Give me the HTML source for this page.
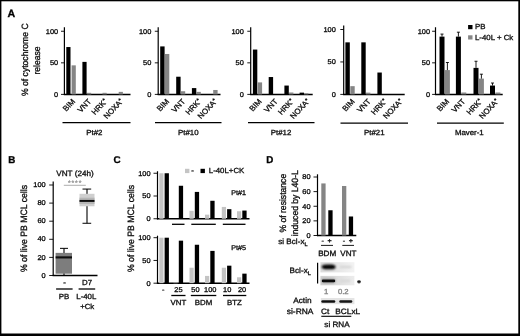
<!DOCTYPE html>
<html lang="en"><head><meta charset="utf-8"><title>Figure</title>
<style>
html,body{margin:0;padding:0;background:#fff;}
body{width:520px;height:336px;overflow:hidden;position:relative;}
svg{display:block;position:absolute;left:0;top:0;font-family:"Liberation Sans", Arial, Helvetica, sans-serif;text-rendering:geometricPrecision;}
text{stroke-width:0.32px;}
</style></head><body>
<svg width="520" height="336" viewBox="0 0 520 336">
<defs>
<filter id="soft" x="0" y="0" width="520" height="336" filterUnits="userSpaceOnUse"><feGaussianBlur stdDeviation="0.45"/></filter>
<filter id="b1" x="-30%" y="-80%" width="160%" height="260%"><feGaussianBlur stdDeviation="0.8"/></filter>
<filter id="b2" x="-30%" y="-80%" width="160%" height="260%"><feGaussianBlur stdDeviation="0.55"/></filter>
<filter id="b3" x="-10%" y="-20%" width="120%" height="140%"><feGaussianBlur stdDeviation="0.5"/></filter>
<linearGradient id="g1" x1="0" x2="1" y1="0" y2="0"><stop offset="0" stop-color="#dcdcdc"/><stop offset="0.5" stop-color="#e6e6e6"/><stop offset="1" stop-color="#f3f3f3"/></linearGradient>
<linearGradient id="g2" x1="0" x2="1" y1="0" y2="0"><stop offset="0" stop-color="#d2d2d2"/><stop offset="0.5" stop-color="#dedede"/><stop offset="1" stop-color="#ececec"/></linearGradient>
</defs>
<rect x="0" y="0" width="520" height="336" fill="#fff"/>
<g id="fig" filter="url(#soft)">
<text transform="translate(7.40 16.80) scale(1.0 1)" font-size="10.6" text-anchor="start" fill="#000" stroke="#000" font-weight="bold">A</text>
<text transform="translate(28.30 59.70) scale(1.06 1) rotate(-90)" font-size="8.6" text-anchor="middle" fill="#111" stroke="#111" font-weight="normal">% of cytochrome C</text>
<text transform="translate(40.00 60.50) scale(1.06 1) rotate(-90)" font-size="8.6" text-anchor="middle" fill="#111" stroke="#111" font-weight="normal">release</text>
<line x1="64.40" y1="27.25" x2="64.40" y2="95.00" stroke="#000" stroke-width="1.2"/>
<line x1="63.80" y1="94.40" x2="130.50" y2="94.40" stroke="#000" stroke-width="1.5"/>
<line x1="61.00" y1="94.40" x2="64.40" y2="94.40" stroke="#000" stroke-width="0.9"/>
<text transform="translate(58.20 96.80) scale(1.06 1)" font-size="7.0" text-anchor="end" fill="#111" stroke="#111" font-weight="normal">0</text>
<line x1="61.00" y1="62.83" x2="64.40" y2="62.83" stroke="#000" stroke-width="0.9"/>
<text transform="translate(58.20 65.23) scale(1.06 1)" font-size="7.0" text-anchor="end" fill="#111" stroke="#111" font-weight="normal">50</text>
<line x1="61.00" y1="31.25" x2="64.40" y2="31.25" stroke="#000" stroke-width="0.9"/>
<text transform="translate(58.20 33.65) scale(1.06 1)" font-size="7.0" text-anchor="end" fill="#111" stroke="#111" font-weight="normal">100</text>
<rect x="66.30" y="47.04" width="4.20" height="47.36" fill="#000"/>
<rect x="71.60" y="65.35" width="4.20" height="29.05" fill="#858585"/>
<rect x="82.40" y="61.88" width="4.20" height="32.52" fill="#000"/>
<rect x="87.00" y="92.82" width="4.20" height="1.58" fill="#858585"/>
<rect x="102.50" y="92.82" width="4.20" height="1.58" fill="#858585"/>
<rect x="118.70" y="91.87" width="4.20" height="2.53" fill="#858585"/>
<line x1="62.50" y1="122.70" x2="130.50" y2="122.70" stroke="#000" stroke-width="1.25"/>
<text transform="translate(94.40 134.60) scale(1.06 1)" font-size="7.4" text-anchor="middle" fill="#111" stroke="#111" font-weight="normal">Pt#2</text>
<line x1="158.20" y1="27.25" x2="158.20" y2="95.00" stroke="#000" stroke-width="1.2"/>
<line x1="157.60" y1="94.40" x2="220.50" y2="94.40" stroke="#000" stroke-width="1.5"/>
<line x1="154.80" y1="94.40" x2="158.20" y2="94.40" stroke="#000" stroke-width="0.9"/>
<text transform="translate(151.30 96.80) scale(1.06 1)" font-size="7.0" text-anchor="end" fill="#111" stroke="#111" font-weight="normal">0</text>
<line x1="154.80" y1="62.83" x2="158.20" y2="62.83" stroke="#000" stroke-width="0.9"/>
<text transform="translate(151.30 65.23) scale(1.06 1)" font-size="7.0" text-anchor="end" fill="#111" stroke="#111" font-weight="normal">50</text>
<line x1="154.80" y1="31.25" x2="158.20" y2="31.25" stroke="#000" stroke-width="0.9"/>
<text transform="translate(151.30 33.65) scale(1.06 1)" font-size="7.0" text-anchor="end" fill="#111" stroke="#111" font-weight="normal">100</text>
<rect x="160.20" y="46.41" width="4.40" height="47.99" fill="#000"/>
<rect x="164.90" y="53.98" width="4.40" height="40.42" fill="#858585"/>
<rect x="176.20" y="76.72" width="4.40" height="17.68" fill="#000"/>
<rect x="180.80" y="91.24" width="4.40" height="3.16" fill="#858585"/>
<rect x="191.90" y="88.09" width="4.40" height="6.31" fill="#000"/>
<rect x="196.40" y="91.87" width="4.40" height="2.53" fill="#858585"/>
<rect x="213.20" y="89.98" width="4.40" height="4.42" fill="#858585"/>
<line x1="155.00" y1="122.70" x2="221.50" y2="122.70" stroke="#000" stroke-width="1.25"/>
<text transform="translate(188.30 134.60) scale(1.06 1)" font-size="7.4" text-anchor="middle" fill="#111" stroke="#111" font-weight="normal">Pt#10</text>
<line x1="250.70" y1="27.25" x2="250.70" y2="95.00" stroke="#000" stroke-width="1.2"/>
<line x1="250.10" y1="94.40" x2="312.70" y2="94.40" stroke="#000" stroke-width="1.5"/>
<line x1="247.30" y1="94.40" x2="250.70" y2="94.40" stroke="#000" stroke-width="0.9"/>
<text transform="translate(243.80 96.80) scale(1.06 1)" font-size="7.0" text-anchor="end" fill="#111" stroke="#111" font-weight="normal">0</text>
<line x1="247.30" y1="62.83" x2="250.70" y2="62.83" stroke="#000" stroke-width="0.9"/>
<text transform="translate(243.80 65.23) scale(1.06 1)" font-size="7.0" text-anchor="end" fill="#111" stroke="#111" font-weight="normal">50</text>
<line x1="247.30" y1="31.25" x2="250.70" y2="31.25" stroke="#000" stroke-width="0.9"/>
<text transform="translate(243.80 33.65) scale(1.06 1)" font-size="7.0" text-anchor="end" fill="#111" stroke="#111" font-weight="normal">100</text>
<rect x="252.90" y="49.56" width="4.40" height="44.84" fill="#000"/>
<rect x="257.70" y="82.40" width="4.40" height="12.00" fill="#858585"/>
<rect x="268.70" y="77.03" width="4.40" height="17.37" fill="#000"/>
<rect x="284.40" y="85.56" width="4.40" height="8.84" fill="#000"/>
<rect x="289.00" y="92.51" width="4.40" height="1.89" fill="#858585"/>
<rect x="299.60" y="92.63" width="4.40" height="1.77" fill="#000"/>
<rect x="304.00" y="93.26" width="4.40" height="1.14" fill="#858585"/>
<line x1="248.00" y1="122.70" x2="314.50" y2="122.70" stroke="#000" stroke-width="1.25"/>
<text transform="translate(281.00 134.60) scale(1.06 1)" font-size="7.4" text-anchor="middle" fill="#111" stroke="#111" font-weight="normal">Pt#12</text>
<line x1="343.70" y1="25.50" x2="343.70" y2="95.00" stroke="#000" stroke-width="1.2"/>
<line x1="343.10" y1="94.40" x2="404.70" y2="94.40" stroke="#000" stroke-width="1.5"/>
<line x1="340.30" y1="94.40" x2="343.70" y2="94.40" stroke="#000" stroke-width="0.9"/>
<text transform="translate(335.80 96.80) scale(1.06 1)" font-size="7.0" text-anchor="end" fill="#111" stroke="#111" font-weight="normal">0</text>
<line x1="340.30" y1="61.95" x2="343.70" y2="61.95" stroke="#000" stroke-width="0.9"/>
<text transform="translate(335.80 64.35) scale(1.06 1)" font-size="7.0" text-anchor="end" fill="#111" stroke="#111" font-weight="normal">50</text>
<line x1="340.30" y1="29.50" x2="343.70" y2="29.50" stroke="#000" stroke-width="0.9"/>
<text transform="translate(335.80 31.90) scale(1.06 1)" font-size="7.0" text-anchor="end" fill="#111" stroke="#111" font-weight="normal">100</text>
<rect x="345.40" y="42.35" width="4.40" height="52.05" fill="#000"/>
<rect x="350.30" y="86.16" width="4.40" height="8.24" fill="#858585"/>
<rect x="361.30" y="42.35" width="4.40" height="52.05" fill="#000"/>
<rect x="366.00" y="92.65" width="4.40" height="1.75" fill="#858585"/>
<rect x="377.40" y="72.53" width="4.40" height="21.87" fill="#000"/>
<line x1="340.50" y1="123.10" x2="408.00" y2="123.10" stroke="#000" stroke-width="1.25"/>
<text transform="translate(374.30 134.60) scale(1.06 1)" font-size="7.4" text-anchor="middle" fill="#111" stroke="#111" font-weight="normal">Pt#21</text>
<line x1="435.50" y1="27.25" x2="435.50" y2="95.00" stroke="#000" stroke-width="1.2"/>
<line x1="434.90" y1="94.40" x2="502.70" y2="94.40" stroke="#000" stroke-width="1.5"/>
<line x1="432.10" y1="94.40" x2="435.50" y2="94.40" stroke="#000" stroke-width="0.9"/>
<text transform="translate(430.10 96.80) scale(1.06 1)" font-size="7.0" text-anchor="end" fill="#111" stroke="#111" font-weight="normal">0</text>
<line x1="432.10" y1="62.83" x2="435.50" y2="62.83" stroke="#000" stroke-width="0.9"/>
<text transform="translate(430.10 65.23) scale(1.06 1)" font-size="7.0" text-anchor="end" fill="#111" stroke="#111" font-weight="normal">50</text>
<line x1="432.10" y1="31.25" x2="435.50" y2="31.25" stroke="#000" stroke-width="0.9"/>
<text transform="translate(430.10 33.65) scale(1.06 1)" font-size="7.0" text-anchor="end" fill="#111" stroke="#111" font-weight="normal">100</text>
<rect x="439.50" y="36.62" width="5.00" height="57.78" fill="#000"/>
<rect x="444.90" y="70.09" width="5.00" height="24.31" fill="#858585"/>
<rect x="455.90" y="36.62" width="5.00" height="57.78" fill="#000"/>
<rect x="461.30" y="92.51" width="5.00" height="1.89" fill="#858585"/>
<rect x="473.50" y="67.88" width="5.00" height="26.52" fill="#000"/>
<rect x="478.90" y="78.61" width="5.00" height="15.79" fill="#858585"/>
<rect x="490.00" y="85.56" width="5.00" height="8.84" fill="#000"/>
<rect x="495.40" y="92.51" width="5.00" height="1.89" fill="#858585"/>
<line x1="442.00" y1="36.62" x2="442.00" y2="34.09" stroke="#000" stroke-width="0.9"/>
<line x1="440.50" y1="34.09" x2="443.50" y2="34.09" stroke="#000" stroke-width="0.9"/>
<line x1="447.40" y1="70.09" x2="447.40" y2="62.51" stroke="#000" stroke-width="0.9"/>
<line x1="445.90" y1="62.51" x2="448.90" y2="62.51" stroke="#000" stroke-width="0.9"/>
<line x1="458.40" y1="36.62" x2="458.40" y2="32.20" stroke="#000" stroke-width="0.9"/>
<line x1="456.90" y1="32.20" x2="459.90" y2="32.20" stroke="#000" stroke-width="0.9"/>
<line x1="476.00" y1="67.88" x2="476.00" y2="61.25" stroke="#000" stroke-width="0.9"/>
<line x1="474.50" y1="61.25" x2="477.50" y2="61.25" stroke="#000" stroke-width="0.9"/>
<line x1="481.40" y1="78.61" x2="481.40" y2="74.19" stroke="#000" stroke-width="0.9"/>
<line x1="479.90" y1="74.19" x2="482.90" y2="74.19" stroke="#000" stroke-width="0.9"/>
<line x1="492.50" y1="85.56" x2="492.50" y2="83.03" stroke="#000" stroke-width="0.9"/>
<line x1="491.00" y1="83.03" x2="494.00" y2="83.03" stroke="#000" stroke-width="0.9"/>
<line x1="437.00" y1="123.10" x2="503.80" y2="123.10" stroke="#000" stroke-width="1.25"/>
<text transform="translate(469.30 134.60) scale(1.06 1)" font-size="7.4" text-anchor="middle" fill="#111" stroke="#111" font-weight="normal">Maver-1</text>
<text transform="translate(75.70 101.80) scale(1.06 1) rotate(-48)" font-size="7.5" text-anchor="end" fill="#111" stroke="#111" font-weight="normal">BIM</text>
<text transform="translate(91.70 101.80) scale(1.06 1) rotate(-48)" font-size="7.5" text-anchor="end" fill="#111" stroke="#111" font-weight="normal">VNT</text>
<text transform="translate(107.70 101.80) scale(1.06 1) rotate(-48)" font-size="7.5" text-anchor="end" fill="#111" stroke="#111" font-weight="normal">HRK<tspan font-size="5.6" dy="-1.6">*</tspan></text>
<text transform="translate(123.70 101.80) scale(1.06 1) rotate(-48)" font-size="7.5" text-anchor="end" fill="#111" stroke="#111" font-weight="normal">NOXA<tspan font-size="5.6" dy="-1.6">*</tspan></text>
<text transform="translate(169.70 101.80) scale(1.06 1) rotate(-48)" font-size="7.5" text-anchor="end" fill="#111" stroke="#111" font-weight="normal">BIM</text>
<text transform="translate(185.70 101.80) scale(1.06 1) rotate(-48)" font-size="7.5" text-anchor="end" fill="#111" stroke="#111" font-weight="normal">VNT</text>
<text transform="translate(201.70 101.80) scale(1.06 1) rotate(-48)" font-size="7.5" text-anchor="end" fill="#111" stroke="#111" font-weight="normal">HRK<tspan font-size="5.6" dy="-1.6">*</tspan></text>
<text transform="translate(217.70 101.80) scale(1.06 1) rotate(-48)" font-size="7.5" text-anchor="end" fill="#111" stroke="#111" font-weight="normal">NOXA<tspan font-size="5.6" dy="-1.6">*</tspan></text>
<text transform="translate(262.20 101.80) scale(1.06 1) rotate(-48)" font-size="7.5" text-anchor="end" fill="#111" stroke="#111" font-weight="normal">BIM</text>
<text transform="translate(278.20 101.80) scale(1.06 1) rotate(-48)" font-size="7.5" text-anchor="end" fill="#111" stroke="#111" font-weight="normal">VNT</text>
<text transform="translate(294.20 101.80) scale(1.06 1) rotate(-48)" font-size="7.5" text-anchor="end" fill="#111" stroke="#111" font-weight="normal">HRK<tspan font-size="5.6" dy="-1.6">*</tspan></text>
<text transform="translate(310.20 101.80) scale(1.06 1) rotate(-48)" font-size="7.5" text-anchor="end" fill="#111" stroke="#111" font-weight="normal">NOXA<tspan font-size="5.6" dy="-1.6">*</tspan></text>
<text transform="translate(355.20 101.80) scale(1.06 1) rotate(-48)" font-size="7.5" text-anchor="end" fill="#111" stroke="#111" font-weight="normal">BIM</text>
<text transform="translate(371.20 101.80) scale(1.06 1) rotate(-48)" font-size="7.5" text-anchor="end" fill="#111" stroke="#111" font-weight="normal">VNT</text>
<text transform="translate(387.20 101.80) scale(1.06 1) rotate(-48)" font-size="7.5" text-anchor="end" fill="#111" stroke="#111" font-weight="normal">HRK<tspan font-size="5.6" dy="-1.6">*</tspan></text>
<text transform="translate(403.20 101.80) scale(1.06 1) rotate(-48)" font-size="7.5" text-anchor="end" fill="#111" stroke="#111" font-weight="normal">NOXA<tspan font-size="5.6" dy="-1.6">*</tspan></text>
<text transform="translate(449.70 101.80) scale(1.06 1) rotate(-48)" font-size="7.5" text-anchor="end" fill="#111" stroke="#111" font-weight="normal">BIM</text>
<text transform="translate(465.70 101.80) scale(1.06 1) rotate(-48)" font-size="7.5" text-anchor="end" fill="#111" stroke="#111" font-weight="normal">VNT</text>
<text transform="translate(482.70 101.80) scale(1.06 1) rotate(-48)" font-size="7.5" text-anchor="end" fill="#111" stroke="#111" font-weight="normal">HRK<tspan font-size="5.6" dy="-1.6">*</tspan></text>
<text transform="translate(499.20 101.80) scale(1.06 1) rotate(-48)" font-size="7.5" text-anchor="end" fill="#111" stroke="#111" font-weight="normal">NOXA<tspan font-size="5.6" dy="-1.6">*</tspan></text>
<rect x="468.10" y="25.00" width="4.40" height="4.20" fill="#000"/>
<text transform="translate(475.00 29.30) scale(1.06 1)" font-size="7.4" text-anchor="start" fill="#111" stroke="#111" font-weight="normal">PB</text>
<rect x="468.10" y="35.30" width="4.40" height="4.20" fill="#858585"/>
<text transform="translate(475.00 40.20) scale(1.06 1)" font-size="7.4" text-anchor="start" fill="#111" stroke="#111" font-weight="normal">L-40L + Ck</text>
<text transform="translate(8.20 162.50) scale(1.0 1)" font-size="9.8" text-anchor="start" fill="#000" stroke="#000" font-weight="bold">B</text>
<text transform="translate(75.00 176.40) scale(1.06 1)" font-size="7.7" text-anchor="middle" fill="#111" stroke="#111" font-weight="normal">VNT (24h)</text>
<text transform="translate(27.40 228.50) scale(1.06 1) rotate(-90)" font-size="8.7" text-anchor="middle" fill="#111" stroke="#111" font-weight="normal">% of live PB MCL cells</text>
<line x1="53.20" y1="276.10" x2="53.20" y2="181.50" stroke="#000" stroke-width="1.2"/>
<line x1="52.60" y1="275.50" x2="97.50" y2="275.50" stroke="#000" stroke-width="1.5"/>
<line x1="49.20" y1="275.50" x2="53.20" y2="275.50" stroke="#000" stroke-width="0.9"/>
<text transform="translate(45.70 277.60) scale(1.06 1)" font-size="7.0" text-anchor="end" fill="#111" stroke="#111" font-weight="normal">0</text>
<line x1="49.20" y1="257.40" x2="53.20" y2="257.40" stroke="#000" stroke-width="0.9"/>
<text transform="translate(45.70 259.50) scale(1.06 1)" font-size="7.0" text-anchor="end" fill="#111" stroke="#111" font-weight="normal">20</text>
<line x1="49.20" y1="239.30" x2="53.20" y2="239.30" stroke="#000" stroke-width="0.9"/>
<text transform="translate(45.70 241.40) scale(1.06 1)" font-size="7.0" text-anchor="end" fill="#111" stroke="#111" font-weight="normal">40</text>
<line x1="49.20" y1="221.20" x2="53.20" y2="221.20" stroke="#000" stroke-width="0.9"/>
<text transform="translate(45.70 223.30) scale(1.06 1)" font-size="7.0" text-anchor="end" fill="#111" stroke="#111" font-weight="normal">60</text>
<line x1="49.20" y1="203.10" x2="53.20" y2="203.10" stroke="#000" stroke-width="0.9"/>
<text transform="translate(45.70 205.20) scale(1.06 1)" font-size="7.0" text-anchor="end" fill="#111" stroke="#111" font-weight="normal">80</text>
<line x1="49.20" y1="185.00" x2="53.20" y2="185.00" stroke="#000" stroke-width="0.9"/>
<text transform="translate(45.70 187.10) scale(1.06 1)" font-size="7.0" text-anchor="end" fill="#111" stroke="#111" font-weight="normal">100</text>
<line x1="64.00" y1="248.35" x2="64.00" y2="275.50" stroke="#000" stroke-width="1.1"/>
<line x1="60.00" y1="248.35" x2="68.00" y2="248.35" stroke="#000" stroke-width="1"/>
<rect x="55.60" y="252.88" width="16.40" height="20.81" fill="#7d7d7d"/>
<rect x="55.60" y="256.31" width="16.40" height="2.17" fill="#111"/>
<line x1="87.00" y1="189.07" x2="87.00" y2="223.28" stroke="#000" stroke-width="1.1"/>
<line x1="82.50" y1="189.07" x2="91.20" y2="189.07" stroke="#000" stroke-width="1"/>
<line x1="82.50" y1="223.28" x2="91.20" y2="223.28" stroke="#000" stroke-width="1"/>
<rect x="79.50" y="193.78" width="15.00" height="12.49" fill="#cfcfcf"/>
<rect x="79.50" y="197.67" width="15.00" height="6.33" fill="#b5b5b5"/>
<rect x="79.50" y="199.93" width="15.00" height="1.99" fill="#111"/>
<line x1="63.80" y1="185.30" x2="85.80" y2="185.30" stroke="#999" stroke-width="0.8"/>
<text transform="translate(75.10 185.20) scale(1.06 1)" font-size="6.5" text-anchor="middle" fill="#999" stroke="#999" font-weight="normal" letter-spacing="0.8">****</text>
<text transform="translate(64.60 284.60) scale(1.06 1)" font-size="7.4" text-anchor="middle" fill="#111" stroke="#111" font-weight="normal">-</text>
<text transform="translate(87.00 285.30) scale(1.06 1)" font-size="7.4" text-anchor="middle" fill="#111" stroke="#111" font-weight="normal">D7</text>
<line x1="56.10" y1="289.00" x2="72.60" y2="289.00" stroke="#000" stroke-width="1.3"/>
<line x1="78.60" y1="289.00" x2="95.20" y2="289.00" stroke="#000" stroke-width="1.3"/>
<text transform="translate(64.00 298.80) scale(1.06 1)" font-size="7.4" text-anchor="middle" fill="#111" stroke="#111" font-weight="normal">PB</text>
<text transform="translate(86.30 298.80) scale(1.06 1)" font-size="7.4" text-anchor="middle" fill="#111" stroke="#111" font-weight="normal">L-40L</text>
<text transform="translate(87.20 308.80) scale(1.06 1)" font-size="7.4" text-anchor="middle" fill="#111" stroke="#111" font-weight="normal">+Ck</text>
<text transform="translate(113.60 162.50) scale(1.0 1)" font-size="9.8" text-anchor="start" fill="#000" stroke="#000" font-weight="bold">C</text>
<text transform="translate(133.90 228.50) scale(1.06 1) rotate(-90)" font-size="8.7" text-anchor="middle" fill="#111" stroke="#111" font-weight="normal">% of live PB MCL cells</text>
<line x1="157.50" y1="219.35" x2="157.50" y2="171.25" stroke="#000" stroke-width="1.2"/>
<line x1="156.90" y1="218.75" x2="249.50" y2="218.75" stroke="#000" stroke-width="1.6"/>
<line x1="153.50" y1="218.75" x2="157.50" y2="218.75" stroke="#000" stroke-width="0.9"/>
<text transform="translate(150.60 221.15) scale(1.06 1)" font-size="7.0" text-anchor="end" fill="#111" stroke="#111" font-weight="normal">0</text>
<line x1="153.50" y1="196.00" x2="157.50" y2="196.00" stroke="#000" stroke-width="0.9"/>
<text transform="translate(150.60 198.40) scale(1.06 1)" font-size="7.0" text-anchor="end" fill="#111" stroke="#111" font-weight="normal">50</text>
<line x1="153.50" y1="173.25" x2="157.50" y2="173.25" stroke="#000" stroke-width="0.9"/>
<text transform="translate(150.60 175.65) scale(1.06 1)" font-size="7.0" text-anchor="end" fill="#111" stroke="#111" font-weight="normal">100</text>
<rect x="159.30" y="173.25" width="4.20" height="45.50" fill="#c4c4c4"/>
<rect x="164.60" y="173.25" width="4.30" height="45.50" fill="#000"/>
<rect x="178.80" y="185.76" width="4.30" height="32.99" fill="#000"/>
<rect x="189.50" y="210.79" width="4.20" height="7.96" fill="#c4c4c4"/>
<rect x="194.80" y="191.91" width="4.30" height="26.84" fill="#000"/>
<rect x="205.00" y="214.66" width="4.20" height="4.09" fill="#c4c4c4"/>
<rect x="210.30" y="200.78" width="4.30" height="17.97" fill="#000"/>
<rect x="221.80" y="206.92" width="4.20" height="11.83" fill="#c4c4c4"/>
<rect x="227.10" y="209.19" width="4.30" height="9.56" fill="#000"/>
<rect x="237.00" y="211.24" width="4.20" height="7.51" fill="#c4c4c4"/>
<rect x="242.30" y="210.56" width="4.30" height="8.19" fill="#000"/>
<text transform="translate(231.20 195.40) scale(1.06 1)" font-size="6.8" text-anchor="start" fill="#111" stroke="#111" font-weight="normal">Pt#1</text>
<line x1="157.50" y1="283.80" x2="157.50" y2="235.70" stroke="#000" stroke-width="1.2"/>
<line x1="156.90" y1="283.20" x2="249.50" y2="283.20" stroke="#000" stroke-width="1.6"/>
<line x1="153.50" y1="283.20" x2="157.50" y2="283.20" stroke="#000" stroke-width="0.9"/>
<text transform="translate(150.60 285.60) scale(1.06 1)" font-size="7.0" text-anchor="end" fill="#111" stroke="#111" font-weight="normal">0</text>
<line x1="153.50" y1="260.45" x2="157.50" y2="260.45" stroke="#000" stroke-width="0.9"/>
<text transform="translate(150.60 262.85) scale(1.06 1)" font-size="7.0" text-anchor="end" fill="#111" stroke="#111" font-weight="normal">50</text>
<line x1="153.50" y1="237.70" x2="157.50" y2="237.70" stroke="#000" stroke-width="0.9"/>
<text transform="translate(150.60 240.10) scale(1.06 1)" font-size="7.0" text-anchor="end" fill="#111" stroke="#111" font-weight="normal">100</text>
<rect x="159.30" y="237.70" width="4.20" height="45.50" fill="#c4c4c4"/>
<rect x="164.60" y="237.70" width="4.30" height="45.50" fill="#000"/>
<rect x="173.50" y="282.75" width="4.20" height="0.45" fill="#c4c4c4"/>
<rect x="178.80" y="240.66" width="4.30" height="42.54" fill="#000"/>
<rect x="189.50" y="267.73" width="4.20" height="15.47" fill="#c4c4c4"/>
<rect x="194.80" y="244.75" width="4.30" height="38.45" fill="#000"/>
<rect x="205.00" y="275.92" width="4.20" height="7.28" fill="#c4c4c4"/>
<rect x="210.30" y="250.89" width="4.30" height="32.31" fill="#000"/>
<rect x="221.80" y="267.73" width="4.20" height="15.47" fill="#c4c4c4"/>
<rect x="227.10" y="265.68" width="4.30" height="17.52" fill="#000"/>
<rect x="237.00" y="277.28" width="4.20" height="5.92" fill="#c4c4c4"/>
<rect x="242.30" y="273.64" width="4.30" height="9.56" fill="#000"/>
<text transform="translate(231.20 250.20) scale(1.06 1)" font-size="6.8" text-anchor="start" fill="#111" stroke="#111" font-weight="normal">Pt#5</text>
<line x1="172.00" y1="224.30" x2="184.50" y2="224.30" stroke="#000" stroke-width="1.3"/>
<line x1="191.30" y1="224.30" x2="215.80" y2="224.30" stroke="#000" stroke-width="1.3"/>
<line x1="222.80" y1="224.30" x2="245.50" y2="224.30" stroke="#000" stroke-width="1.3"/>
<rect x="185.00" y="168.80" width="4.40" height="4.30" fill="#c4c4c4"/>
<text transform="translate(191.30 173.20) scale(1.06 1)" font-size="7.4" text-anchor="start" fill="#111" stroke="#111" font-weight="normal">-</text>
<rect x="200.50" y="168.80" width="4.40" height="4.30" fill="#000"/>
<text transform="translate(208.80 173.30) scale(1.06 1)" font-size="7.4" text-anchor="start" fill="#111" stroke="#111" font-weight="normal">L-40L+CK</text>
<text transform="translate(163.30 292.30) scale(1.06 1)" font-size="7.0" text-anchor="middle" fill="#111" stroke="#111" font-weight="normal">-</text>
<text transform="translate(178.40 292.30) scale(1.06 1)" font-size="7.0" text-anchor="middle" fill="#111" stroke="#111" font-weight="normal">25</text>
<text transform="translate(195.40 292.30) scale(1.06 1)" font-size="7.0" text-anchor="middle" fill="#111" stroke="#111" font-weight="normal">50</text>
<text transform="translate(210.30 292.30) scale(1.06 1)" font-size="7.0" text-anchor="middle" fill="#111" stroke="#111" font-weight="normal">100</text>
<text transform="translate(227.20 292.30) scale(1.06 1)" font-size="7.0" text-anchor="middle" fill="#111" stroke="#111" font-weight="normal">10</text>
<text transform="translate(242.00 292.30) scale(1.06 1)" font-size="7.0" text-anchor="middle" fill="#111" stroke="#111" font-weight="normal">20</text>
<line x1="171.30" y1="295.50" x2="185.50" y2="295.50" stroke="#000" stroke-width="1.3"/>
<line x1="190.80" y1="295.50" x2="216.30" y2="295.50" stroke="#000" stroke-width="1.3"/>
<line x1="223.00" y1="295.50" x2="246.30" y2="295.50" stroke="#000" stroke-width="1.3"/>
<text transform="translate(178.40 305.20) scale(1.06 1)" font-size="7.4" text-anchor="middle" fill="#111" stroke="#111" font-weight="normal">VNT</text>
<text transform="translate(203.50 305.20) scale(1.06 1)" font-size="7.4" text-anchor="middle" fill="#111" stroke="#111" font-weight="normal">BDM</text>
<text transform="translate(234.50 305.20) scale(1.06 1)" font-size="7.4" text-anchor="middle" fill="#111" stroke="#111" font-weight="normal">BTZ</text>
<text transform="translate(266.20 162.50) scale(1.0 1)" font-size="9.8" text-anchor="start" fill="#000" stroke="#000" font-weight="bold">D</text>
<text transform="translate(285.80 203.20) scale(1.06 1) rotate(-90)" font-size="8.6" text-anchor="middle" fill="#111" stroke="#111" font-weight="normal">% of resistance</text>
<text transform="translate(297.50 203.20) scale(1.06 1) rotate(-90)" font-size="8.6" text-anchor="middle" fill="#111" stroke="#111" font-weight="normal">induced by L40-L</text>
<line x1="317.50" y1="236.10" x2="317.50" y2="174.30" stroke="#000" stroke-width="1.2"/>
<line x1="316.90" y1="235.50" x2="356.30" y2="235.50" stroke="#000" stroke-width="1.5"/>
<line x1="313.50" y1="235.50" x2="317.50" y2="235.50" stroke="#000" stroke-width="0.9"/>
<text transform="translate(310.60 237.90) scale(1.06 1)" font-size="7.0" text-anchor="end" fill="#111" stroke="#111" font-weight="normal">0</text>
<line x1="313.50" y1="220.87" x2="317.50" y2="220.87" stroke="#000" stroke-width="0.9"/>
<text transform="translate(310.60 223.27) scale(1.06 1)" font-size="7.0" text-anchor="end" fill="#111" stroke="#111" font-weight="normal">20</text>
<line x1="313.50" y1="206.25" x2="317.50" y2="206.25" stroke="#000" stroke-width="0.9"/>
<text transform="translate(310.60 208.65) scale(1.06 1)" font-size="7.0" text-anchor="end" fill="#111" stroke="#111" font-weight="normal">40</text>
<line x1="313.50" y1="191.62" x2="317.50" y2="191.62" stroke="#000" stroke-width="0.9"/>
<text transform="translate(310.60 194.02) scale(1.06 1)" font-size="7.0" text-anchor="end" fill="#111" stroke="#111" font-weight="normal">60</text>
<line x1="313.50" y1="177.00" x2="317.50" y2="177.00" stroke="#000" stroke-width="0.9"/>
<text transform="translate(310.60 179.40) scale(1.06 1)" font-size="7.0" text-anchor="end" fill="#111" stroke="#111" font-weight="normal">80</text>
<rect x="321.30" y="183.43" width="4.30" height="52.07" fill="#858585"/>
<rect x="328.30" y="210.27" width="4.30" height="25.23" fill="#000"/>
<rect x="342.00" y="185.99" width="4.30" height="49.51" fill="#858585"/>
<rect x="348.80" y="216.49" width="4.30" height="19.01" fill="#000"/>
<text transform="translate(278.2 243.9) scale(1.06 1)" font-size="7.7" fill="#111" stroke="#111">si Bcl-x<tspan font-size="5.3" dy="1.9">L</tspan></text>
<text transform="translate(322.80 243.40) scale(1.06 1)" font-size="6.8" text-anchor="middle" fill="#111" stroke="#111" font-weight="normal">-</text>
<text transform="translate(329.70 243.40) scale(1.06 1)" font-size="6.8" text-anchor="middle" fill="#111" stroke="#111" font-weight="normal">+</text>
<text transform="translate(344.00 243.40) scale(1.06 1)" font-size="6.8" text-anchor="middle" fill="#111" stroke="#111" font-weight="normal">-</text>
<text transform="translate(350.80 243.40) scale(1.06 1)" font-size="6.8" text-anchor="middle" fill="#111" stroke="#111" font-weight="normal">+</text>
<line x1="321.00" y1="245.40" x2="333.00" y2="245.40" stroke="#000" stroke-width="0.9"/>
<line x1="342.30" y1="245.40" x2="354.00" y2="245.40" stroke="#000" stroke-width="0.9"/>
<text transform="translate(327.20 255.80) scale(1.06 1)" font-size="7.7" text-anchor="middle" fill="#111" stroke="#111" font-weight="normal">BDM</text>
<text transform="translate(348.40 255.80) scale(1.06 1)" font-size="7.6" text-anchor="middle" fill="#111" stroke="#111" font-weight="normal">VNT</text>
<line x1="317.60" y1="262.80" x2="317.60" y2="283.60" stroke="#000" stroke-width="1.2"/>
<text transform="translate(289.6 273.2) scale(1.06 1)" font-size="7.7" fill="#111" stroke="#111">Bcl-x<tspan font-size="5.3" dy="1.9">L</tspan></text>
<rect x="320.4" y="262.2" width="34" height="10.2" fill="url(#g1)" filter="url(#b3)"/>
<rect x="320.4" y="275.9" width="34" height="9.4" fill="url(#g2)" filter="url(#b3)"/>
<path d="M321.6 266.9 C321.6 265.2 324 264.6 328 264.5 C332 264.3 335.6 264.8 335.6 266.9 C335.6 269 332 269.5 328 269.3 C324 269.1 321.6 268.5 321.6 266.9Z" fill="#030303" filter="url(#b1)"/>
<rect x="339.5" y="265.9" width="12" height="2.2" rx="1.1" fill="#d2d2d2" filter="url(#b1)"/>
<rect x="321.2" y="278.4" width="14.4" height="4.8" rx="2.4" fill="#9a9a9a" filter="url(#b1)"/>
<rect x="321.8" y="279.6" width="13.4" height="2.7" rx="1.35" fill="#0e0e0e" filter="url(#b2)"/>
<rect x="339.5" y="279.9" width="11" height="1.8" rx="0.9" fill="#d4d4d4" filter="url(#b1)"/>
<text transform="translate(358.90 286.20) scale(1.06 1)" font-size="8.5" text-anchor="middle" fill="#111" stroke="#111" font-weight="bold">*</text>
<text transform="translate(326.20 294.30) scale(1.06 1)" font-size="7.3" text-anchor="middle" fill="#858585" stroke="#858585" font-weight="normal">1</text>
<text transform="translate(343.30 294.30) scale(1.06 1)" font-size="7.3" text-anchor="middle" fill="#858585" stroke="#858585" font-weight="normal">0.2</text>
<text transform="translate(293.20 303.20) scale(1.06 1)" font-size="7.8" text-anchor="start" fill="#111" stroke="#111" font-weight="normal">Actin</text>
<rect x="320.80" y="298.00" width="33.60" height="6.20" fill="#e4e4e4"/>
<rect x="321.3" y="300.2" width="14" height="2.6" rx="1.3" fill="#0c0c0c" filter="url(#b2)"/>
<rect x="339.3" y="300.3" width="13" height="2.4" rx="1.2" fill="#141414" filter="url(#b2)"/>
<text transform="translate(286.80 313.90) scale(1.06 1)" font-size="7.9" text-anchor="start" fill="#111" stroke="#111" font-weight="normal">si-RNA</text>
<text transform="translate(321.00 313.90) scale(1.06 1)" font-size="7.8" text-anchor="start" fill="#111" stroke="#111" font-weight="normal">Ct</text>
<text transform="translate(335.30 313.90) scale(1.06 1)" font-size="7.8" text-anchor="start" fill="#111" stroke="#111" font-weight="normal">BCLxL</text>
<line x1="321.30" y1="316.30" x2="351.30" y2="316.30" stroke="#000" stroke-width="1.1"/>
<text transform="translate(337.00 326.60) scale(1.06 1)" font-size="7.7" text-anchor="middle" fill="#111" stroke="#111" font-weight="normal">si RNA</text>
</g>
<!-- frame -->
<rect x="0" y="0" width="520" height="1.3" fill="#000"/>
<rect x="0" y="0" width="1.4" height="336" fill="#000"/>
<rect x="518.3" y="0" width="1.7" height="336" fill="#000"/>
<rect x="0" y="333.5" width="520" height="2.5" fill="#000"/>
</svg>
</body></html>
